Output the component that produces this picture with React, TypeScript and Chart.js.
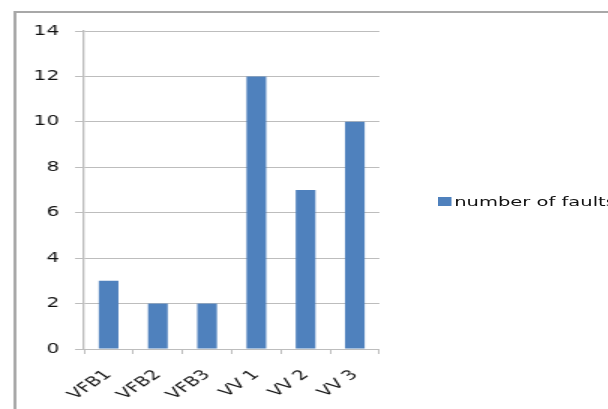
import React, { useEffect, useRef } from "react";
import { Chart, registerables } from "chart.js";

Chart.register(...registerables);

const categories = ["VFB1", "VFB2", "VFB3", "VV 1", "VV 2", "VV 3"];
const faults = [3, 2, 2, 12, 7, 10];
const seriesName = "number of faults";
const yMin = 0;
const yMax = 14;
const yStep = 2;

const STRETCH = 1.5; // the whole figure is widened horizontally
const W = 608 / STRETCH;
const H = 409;
const BAR = "#4F81BD";
const GRID = "#bdbdbd";
const TEXT = "#111111";
const FONT = "'DejaVu Sans', Verdana, sans-serif";

export default function App() {
  const ref = useRef<HTMLCanvasElement | null>(null);

  useEffect(() => {
    if (!ref.current) return;
    const chart = new Chart(ref.current, {
      type: "bar",
      data: {
        labels: categories,
        datasets: [
          {
            label: seriesName,
            data: faults,
            backgroundColor: BAR,
            borderWidth: 0,
            categoryPercentage: 1,
            barPercentage: 0.4,
          },
        ],
      },
      options: {
        animation: false,
        responsive: false,
        devicePixelRatio: 1,
        layout: { padding: { left: 0, top: 31, right: W - 253.3, bottom: 0 } },
        plugins: { legend: { display: false }, tooltip: { enabled: false } },
        scales: {
          x: {
            grid: {
              display: true,
              offset: true,
              drawOnChartArea: false,
              tickLength: 5,
              color: GRID,
            },
            border: { color: GRID, width: 1 },
            ticks: {
              color: TEXT,
              font: { family: FONT, size: 13.5 },
              minRotation: 45,
              maxRotation: 45,
              padding: 13,
              autoSkip: false,
            },
            afterFit: (s: any) => {
              s.height = 60;
            },
          },
          y: {
            min: yMin,
            max: yMax,
            grid: { color: GRID, tickLength: 6, lineWidth: 1 },
            border: { color: GRID, width: 1.3 },
            ticks: {
              stepSize: yStep,
              color: TEXT,
              font: { family: FONT, size: 13.5 },
              padding: 10.5,
            },
            afterFit: (s: any) => {
              s.width = 56;
            },
          },
        },
      },
    });
    return () => chart.destroy();
  }, []);

  return (
    <div
      style={{
        position: "fixed",
        left: 0,
        top: 0,
        width: 608,
        height: H,
        overflow: "hidden",
        background: "#fff",
      }}
    >
      <div
        style={{
          position: "absolute",
          left: 0,
          top: 0,
          width: W,
          height: H,
          transform: `scaleX(${STRETCH})`,
          transformOrigin: "0 0",
        }}
      >
        <div
          style={{
            position: "absolute",
            left: 8.7,
            top: 11,
            width: W + 20,
            height: H + 20,
            border: "2px solid #a8a8a8",
            boxSizing: "border-box",
          }}
        />
        <canvas
          ref={ref}
          width={W}
          height={H}
          style={{ position: "absolute", left: 0, top: 0, width: W, height: H }}
        />
        <div
          style={{
            position: "absolute",
            left: 292,
            top: 194,
            display: "flex",
            alignItems: "center",
            whiteSpace: "nowrap",
            fontFamily: FONT,
            fontSize: 13,
            color: TEXT,
          }}
        >
          <span
            style={{
              display: "inline-block",
              width: 9.3,
              height: 9,
              background: BAR,
              marginRight: 1.5,
            }}
          />
          <span>{seriesName}</span>
        </div>
      </div>
    </div>
  );
}
